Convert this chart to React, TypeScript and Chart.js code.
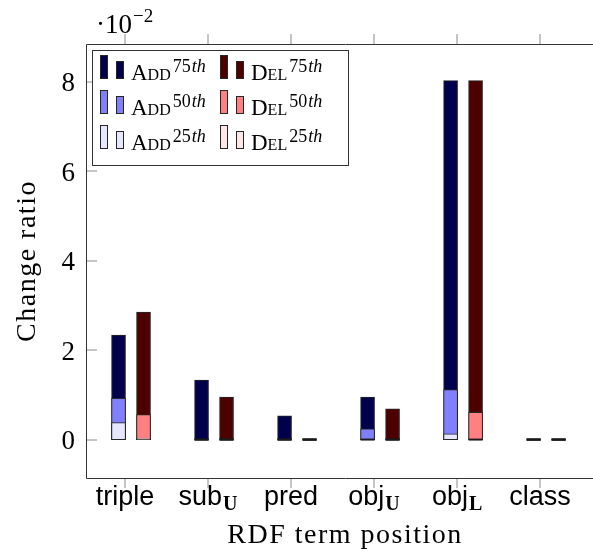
import { useEffect, useRef } from 'react';
import { Chart, registerables } from 'chart.js';

Chart.register(...registerables);

// Categories along the x axis (base text + bold subscript)
const CATEGORIES = ['triple', 'sub', 'pred', 'obj', 'obj', 'class'];
const CATEGORY_SUBSCRIPTS = ['', 'U', '', 'U', 'L', ''];

// Change ratio percentiles (in units of 10^-2)
const ADD_75 = [2.34, 1.33, 0.53, 0.95, 8.03, 0];
const ADD_50 = [0.925, 0, 0, 0.24, 1.12, 0];
const ADD_25 = [0.38, 0, 0, 0, 0.13, 0];
const DEL_75 = [2.85, 0.95, 0, 0.69, 8.03, 0];
const DEL_50 = [0.56, 0, 0, 0, 0.61, 0];
const DEL_25 = [0.03, 0, 0, 0, 0, 0];

const Y_TICKS = [0, 2, 4, 6, 8];
const Y_MIN = -0.86;
const Y_MAX = 8.85;
const X_MIN = -0.47;
const X_MAX = 5.77;

// Horizontal shift of each bar group relative to its category tick
const ADD_SHIFT = -0.078;
const DEL_SHIFT = 0.223;

const SERIF = '"Liberation Serif", "Times New Roman", serif';
const SANS = '"Liberation Sans", Arial, sans-serif';
const BAR_EDGE = '#262626';

type Series = {
  name: string;
  pct: string;
  values: number[];
  color: string;
  shift: number;
  order: number;
};

const SERIES: Series[] = [
  { name: 'Add', pct: '75', values: ADD_75, color: '#00004d', shift: ADD_SHIFT, order: 3 },
  { name: 'Add', pct: '50', values: ADD_50, color: '#8080ff', shift: ADD_SHIFT, order: 2 },
  { name: 'Add', pct: '25', values: ADD_25, color: '#e6e6ff', shift: ADD_SHIFT, order: 1 },
  { name: 'Del', pct: '75', values: DEL_75, color: '#4d0000', shift: DEL_SHIFT, order: 3 },
  { name: 'Del', pct: '50', values: DEL_50, color: '#ff8080', shift: DEL_SHIFT, order: 2 },
  { name: 'Del', pct: '25', values: DEL_25, color: '#ffe6e6', shift: DEL_SHIFT, order: 1 },
];

// Zero-height bars are drawn as a short dark dash on the baseline
const zeroBarPlugin = {
  id: 'zeroBars',
  afterDatasetsDraw(chart: any) {
    const ctx = chart.ctx;
    const yScale = chart.scales.y;
    const y0 = yScale.getPixelForValue(0);
    ctx.save();
    ctx.strokeStyle = '#1a1a1a';
    ctx.lineWidth = 2;
    chart.data.datasets.forEach((ds: any, di: number) => {
      const meta = chart.getDatasetMeta(di);
      meta.data.forEach((el: any, i: number) => {
        if (ds.data[i].y === 0) {
          const half = el.width / 2;
          ctx.beginPath();
          ctx.moveTo(el.x - half, y0);
          ctx.lineTo(el.x + half, y0);
          ctx.stroke();
        }
      });
    });
    ctx.restore();
  },
};

function drawLegend(ctx: CanvasRenderingContext2D) {
  const box = { left: 92, top: 50, right: 348, bottom: 165 };
  ctx.save();
  ctx.fillStyle = '#ffffff';
  ctx.fillRect(box.left, box.top, box.right - box.left, box.bottom - box.top);
  ctx.strokeStyle = '#333333';
  ctx.lineWidth = 1;
  ctx.strokeRect(box.left + 0.5, box.top + 0.5, box.right - box.left, box.bottom - box.top);

  const colX = [100, 220];
  const rowBottom = [79, 114, 149];
  const pcts = ['75', '50', '25'];
  const names = ['Add', 'Del'];
  names.forEach((name, c) => {
    pcts.forEach((pct, r) => {
      const s = SERIES.find((q) => q.name === name && q.pct === pct)!;
      const x = colX[c];
      const yb = rowBottom[r];
      ctx.fillStyle = s.color;
      ctx.strokeStyle = BAR_EDGE;
      ctx.fillRect(x, yb - 24, 8, 24);
      ctx.strokeRect(x + 0.5, yb - 23.5, 7, 23);
      ctx.fillRect(x + 16, yb - 18, 8, 18);
      ctx.strokeRect(x + 16.5, yb - 17.5, 7, 17);

      ctx.fillStyle = '#000';
      ctx.textAlign = 'left';
      ctx.textBaseline = 'alphabetic';
      ctx.font = `small-caps 23px ${SERIF}`;
      const tx = x + 31;
      ctx.fillText(name, tx, yb + 1);
      let sx = tx + ctx.measureText(name).width + 2;
      ctx.font = `18px ${SERIF}`;
      ctx.fillText(pct, sx, yb - 7);
      sx += ctx.measureText(pct).width + 1;
      ctx.font = `italic 18px ${SERIF}`;
      ctx.fillText('th', sx, yb - 7);
    });
  });
  ctx.restore();
}

const framePlugin = {
  id: 'frame',
  afterDraw(chart: any) {
    const ctx: any = chart.ctx;
    const area = chart.chartArea;
    const xs = chart.scales.x;
    const ys = chart.scales.y;
    ctx.save();

    // Tick marks
    ctx.strokeStyle = '#8a8a8a';
    ctx.lineWidth = 1;
    CATEGORIES.forEach((_, i) => {
      const px = Math.round(xs.getPixelForValue(i));
      ctx.beginPath();
      ctx.moveTo(px, area.top - 10);
      ctx.lineTo(px, area.top);
      ctx.moveTo(px, area.bottom);
      ctx.lineTo(px, area.bottom + 10);
      ctx.stroke();
    });
    Y_TICKS.forEach((v) => {
      const py = Math.round(ys.getPixelForValue(v));
      ctx.beginPath();
      ctx.moveTo(area.left, py);
      ctx.lineTo(area.left + 11, py);
      ctx.moveTo(area.right - 11, py);
      ctx.lineTo(area.right, py);
      ctx.stroke();
    });

    // Axis box
    ctx.strokeStyle = '#333333';
    ctx.lineWidth = 1;
    ctx.beginPath();
    ctx.rect(area.left + 0.5, area.top + 0.5, area.right - area.left, area.bottom - area.top);
    ctx.stroke();

    // Y tick labels
    ctx.fillStyle = '#000';
    ctx.font = `27px ${SERIF}`;
    ctx.textAlign = 'right';
    ctx.textBaseline = 'alphabetic';
    Y_TICKS.forEach((v) => {
      const py = ys.getPixelForValue(v);
      ctx.fillText(String(v), area.left - 11, py + 9.5);
    });

    // X tick labels with subscripts
    CATEGORIES.forEach((label, i) => {
      const px = xs.getPixelForValue(i);
      const sub = CATEGORY_SUBSCRIPTS[i];
      ctx.font = `27px ${SANS}`;
      const wBase = ctx.measureText(label).width;
      ctx.font = `bold 20px ${SERIF}`;
      const wSub = sub ? ctx.measureText(sub).width + 1 : 0;
      const start = px - (wBase + wSub) / 2;
      ctx.textAlign = 'left';
      ctx.font = `27px ${SANS}`;
      ctx.fillText(label, start, 505);
      if (sub) {
        ctx.font = `bold 20px ${SERIF}`;
        ctx.fillText(sub, start + wBase + 1, 510);
      }
    });

    // Axis titles
    ctx.font = `28px ${SERIF}`;
    ctx.letterSpacing = '1.5px';
    ctx.textAlign = 'center';
    ctx.fillText('RDF term position', (area.left + area.right) / 2, 543);
    ctx.save();
    ctx.translate(35, (area.top + area.bottom) / 2);
    ctx.rotate(-Math.PI / 2);
    ctx.fillText('Change ratio', 0, 0);
    ctx.restore();
    ctx.letterSpacing = '0px';

    // Scale factor label
    ctx.textAlign = 'left';
    ctx.font = `27px ${SERIF}`;
    ctx.fillText('\u00b710', 96, 33);
    const wTen = ctx.measureText('\u00b710').width;
    ctx.font = `19px ${SERIF}`;
    ctx.fillText('\u22122', 96 + wTen + 1, 22);

    drawLegend(ctx);
    ctx.restore();
  },
};

export default function App() {
  const ref = useRef<HTMLCanvasElement>(null);

  useEffect(() => {
    const canvas = ref.current;
    if (!canvas) return;
    const datasets = SERIES.map((s) => ({
      label: `${s.name} ${s.pct}th`,
      data: s.values.map((v, i) => ({ x: i + s.shift, y: v })),
      backgroundColor: s.color,
      borderColor: BAR_EDGE,
      borderWidth: 1,
      borderSkipped: false as const,
      barThickness: 14,
      grouped: false,
      order: s.order,
    }));
    const chart = new Chart(canvas, {
      type: 'bar',
      data: { datasets: datasets as any },
      options: {
        responsive: false,
        animation: false,
        devicePixelRatio: 1,
        layout: { padding: { top: 44, right: 10, left: 0, bottom: 0 } },
        plugins: { legend: { display: false }, tooltip: { enabled: false } },
        scales: {
          x: {
            type: 'linear',
            min: X_MIN,
            max: X_MAX,
            offset: false,
            ticks: { display: false },
            grid: { display: false },
            border: { display: false },
            afterFit: (s: any) => {
              s.height = 80;
            },
          },
          y: {
            type: 'linear',
            min: Y_MIN,
            max: Y_MAX,
            ticks: { display: false },
            grid: { display: false },
            border: { display: false },
            afterFit: (s: any) => {
              s.width = 86;
            },
          },
        },
      } as any,
      plugins: [zeroBarPlugin, framePlugin],
    });
    return () => chart.destroy();
  }, []);

  return (
    <div
      style={{
        position: 'absolute',
        left: 0,
        top: 0,
        width: 593,
        height: 558,
        overflow: 'hidden',
        background: '#ffffff',
      }}
    >
      <canvas ref={ref} width={614} height={558} style={{ display: 'block' }} />
    </div>
  );
}
